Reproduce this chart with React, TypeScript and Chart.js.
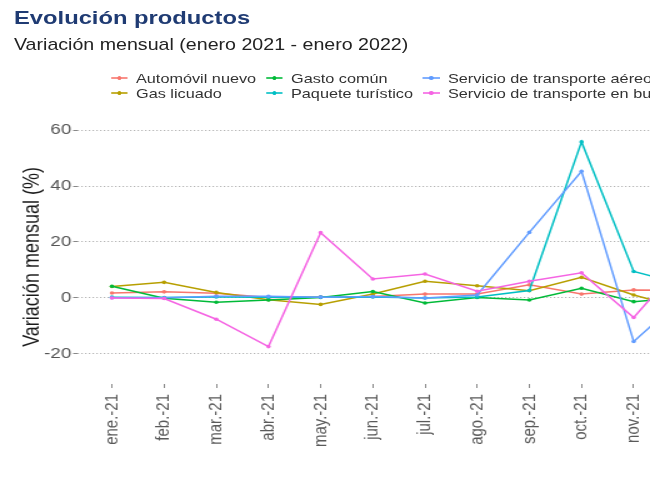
import { useEffect, useRef } from 'react'
import { Chart, registerables } from 'chart.js'

Chart.register(...registerables)
Chart.defaults.font.family = "'Liberation Sans', Arial, sans-serif"

const months = ['ene.-21', 'feb.-21', 'mar.-21', 'abr.-21', 'may.-21', 'jun.-21', 'jul.-21', 'ago.-21', 'sep.-21', 'oct.-21', 'nov.-21', 'dic.-21', 'ene.-22']
const yTicks = [-20, 0, 20, 40, 60]

const automovilNuevo = [1.7, 2.1, 1.6, 0.1, 0.3, 0.4, 1.3, 1.3, 4.6, 1.3, 2.8, 2.7, 1.5]
const gasLicuado = [4.0, 5.5, 1.9, -0.7, -2.4, 1.3, 5.9, 4.3, 2.5, 7.3, 1.0, -4.0, 2.0]
const gastoComun = [4.1, -0.2, -1.6, -0.8, 0.1, 2.2, -1.9, 0.1, -0.8, 3.4, -1.4, 0.2, 1.0]
const paqueteTuristico = [0.2, 0.1, 0.3, 0.2, 0.2, 0.3, -0.1, 0.3, 2.6, 55.8, 9.4, 4.5, -26.8]
const transporteAereo = [0.0, 0.0, 0.5, 0.5, 0.2, 0.4, -0.1, 1.0, 23.4, 45.3, -15.7, 1.0, -20.0]
const transporteBus = [-0.1, -0.3, -7.7, -17.5, 23.3, 6.7, 8.5, 2.3, 5.9, 8.9, -7.1, 14.0, -10.0]

const series = [
  { name: 'Automóvil nuevo', color: '#F8766D', values: automovilNuevo },
  { name: 'Gas licuado', color: '#B79F00', values: gasLicuado },
  { name: 'Gasto común', color: '#00BA38', values: gastoComun },
  { name: 'Paquete turístico', color: '#00BFC4', values: paqueteTuristico },
  { name: 'Servicio de transporte aéreo', color: '#619CFF', values: transporteAereo },
  { name: 'Servicio de transporte en bus', color: '#F564E3', values: transporteBus },
]

// the picture is stretched horizontally, so everything is laid out narrower and scaled
const STRETCH = 1.25
const keyX = [88.8, 212.8, 338.4]
const textX = [108.8, 232.8, 358.4]
const rowY = [78, 93]

export default function App() {
  const canvasRef = useRef<HTMLCanvasElement>(null)

  useEffect(() => {
    if (!canvasRef.current) return
    const chart = new Chart(canvasRef.current, {
      type: 'line',
      data: {
        datasets: series.map((s, i) => ({
          label: s.name,
          data: s.values.map((v, j) => ({ x: j, y: v })),
          borderColor: s.color,
          backgroundColor: s.color,
          borderWidth: 1.5,
          pointRadius: 1.8,
          pointBorderWidth: 0,
          pointBackgroundColor: s.color,
          tension: 0,
          order: series.length - i,
        })),
      },
      options: {
        responsive: true,
        maintainAspectRatio: false,
        animation: false,
        layout: { padding: { left: 0, top: 129.9, right: 12, bottom: 0 } },
        plugins: {
          legend: { display: false },
          tooltip: { enabled: false },
          title: { display: false },
        },
        scales: {
          x: {
            type: 'linear',
            min: -0.66,
            max: 12.66,
            afterBuildTicks: (scale: any) => { scale.ticks = months.map((_, i) => ({ value: i })) },
            afterFit: (scale: any) => { scale.height = 103 },
            ticks: {
              autoSkip: false,
              minRotation: 90,
              maxRotation: 90,
              padding: 6,
              color: '#5a5a5a',
              font: { size: 15 },
              callback: (v: any) => months[Number(v)] ?? '',
            },
            grid: { drawOnChartArea: false, drawTicks: true, tickLength: 4, tickColor: '#888' },
            border: { display: false },
          },
          y: {
            min: -30.9,
            max: 60.1,
            afterBuildTicks: (scale: any) => { scale.ticks = yTicks.map(v => ({ value: v })) },
            afterFit: (scale: any) => { scale.width = 62 },
            ticks: { padding: 1.5, color: '#555', font: { size: 15 }, callback: (v: any) => String(v) },
            grid: { color: '#b4b4b4', lineWidth: 1, drawTicks: true, tickLength: 3.5, tickColor: '#888', tickBorderDash: [] },
            border: { display: false, dash: [1.2, 1.8] },
            title: {
              display: true,
              text: 'Variación mensual (%)',
              color: '#1a1a1a',
              font: { size: 18 },
              padding: { top: 14.8, bottom: 0 },
            },
          },
        },
      },
    })
    return () => chart.destroy()
  }, [])

  // legend fills column by column, two rows
  const legendItems = series.map((s, i) => ({ ...s, col: Math.floor(i / 2), row: i % 2 }))

  return (
    <div style={{ position: 'absolute', left: 0, top: 0, width: 650, height: 487, overflow: 'hidden', background: '#fff' }}>
      <div
        style={{
          position: 'absolute', left: 0, top: 0, width: 630, height: 487,
          transform: `scaleX(${STRETCH})`, transformOrigin: '0 0',
          fontFamily: "'Liberation Sans', Arial, sans-serif",
        }}
      >
        <div style={{ position: 'absolute', left: 0, top: 0, width: 630, height: 487 }}>
          <canvas ref={canvasRef} />
        </div>
        <div style={{ position: 'absolute', left: 11.2, top: 7.9, fontSize: 19, lineHeight: '19px', fontWeight: 'bold', color: '#1f3b73', whiteSpace: 'nowrap' }}>
          Evolución productos
        </div>
        <div style={{ position: 'absolute', left: 11.2, top: 36.7, fontSize: 15.7, lineHeight: '15.7px', color: '#222', whiteSpace: 'nowrap' }}>
          Variación mensual (enero 2021 - enero 2022)
        </div>
        {legendItems.map(it => (
          <div key={it.name}>
            <div style={{ position: 'absolute', left: keyX[it.col], top: rowY[it.row] - 0.75, width: 13.6, height: 1.5, background: it.color, opacity: 0.8 }} />
            <div style={{ position: 'absolute', left: keyX[it.col] + 5, top: rowY[it.row] - 1.8, width: 3.6, height: 3.6, borderRadius: '50%', background: it.color }} />
            <div style={{ position: 'absolute', left: textX[it.col], top: rowY[it.row] - 6.3, fontSize: 13, lineHeight: '13px', color: '#333', whiteSpace: 'nowrap' }}>
              {it.name}
            </div>
          </div>
        ))}
      </div>
    </div>
  )
}
